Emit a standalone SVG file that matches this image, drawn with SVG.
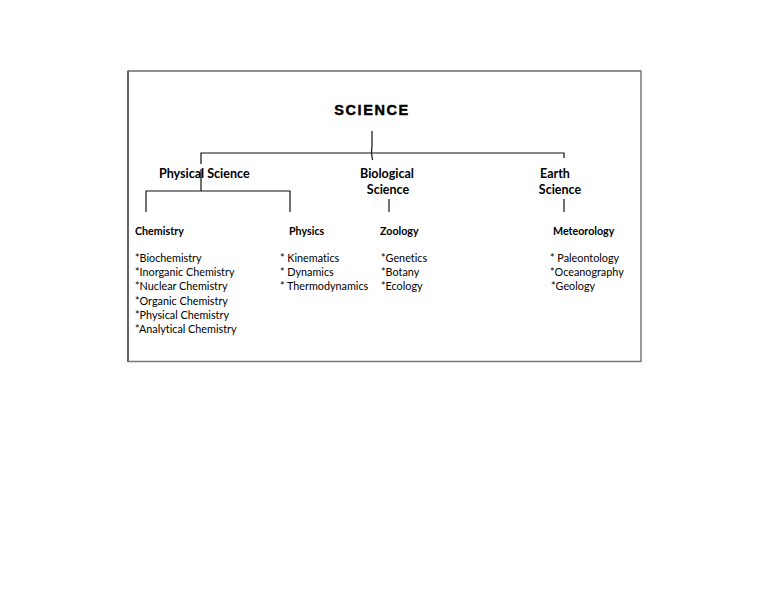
<svg xmlns="http://www.w3.org/2000/svg" width="768" height="594" viewBox="0 0 768 594">
<style>
.t{font-family:Lato,"Liberation Sans",sans-serif;fill:#000;font-variant-ligatures:none;}
.h{font-size:12.5px;font-weight:bold;}
.s{font-size:10.7px;font-weight:bold;}
.l{font-size:10.8px;}
.c{stroke:#111;stroke-width:1.2;fill:none;}
</style>
<rect width="768" height="594" fill="#fff"/>
<g id="frame">
<line x1="128" y1="71" x2="641" y2="71" stroke="#222" stroke-width="1.2"/>
<line x1="128" y1="70.5" x2="128" y2="362" stroke="#666" stroke-width="2"/>
<line x1="641" y1="70.5" x2="641" y2="362" stroke="#777" stroke-width="1.5"/>
<line x1="128" y1="361.5" x2="641" y2="361.5" stroke="#777" stroke-width="1.5"/>
</g>
<g id="connectors">
<path class="c" d="M372,131 L372,146 L371.5,153 L372.5,160"/>
<path class="c" d="M201,164 L201,153 L564,153 L564,158"/>
<path class="c" d="M201,169 L201,191"/>
<path class="c" d="M146,212 L146,191 L290,191 L290,212"/>
<path class="c" d="M389,199 L389,212"/>
<path class="c" d="M564,199 L564,212"/>
</g>
<g id="science"><text class="t" x="372" y="115" text-anchor="middle" stroke="#000" stroke-width="0.45" style="font-family:'Liberation Sans',sans-serif;font-size:14.5px;font-weight:900;letter-spacing:1.6px">SCIENCE</text></g>
<g id="physical-science"><text class="t h" x="159" y="178">Physical Science</text></g>
<g id="biological-science"><text class="t h" x="387" y="178" text-anchor="middle">Biological</text><text class="t h" x="388" y="194" text-anchor="middle">Science</text></g>
<g id="earth-science"><text class="t h" x="555" y="178" text-anchor="middle">Earth</text><text class="t h" x="560" y="194" text-anchor="middle">Science</text></g>
<g id="chemistry"><text class="t s" x="135" y="235">Chemistry</text>
<text class="t l" x="135" y="262">*Biochemistry</text>
<text class="t l" x="135" y="276">*Inorganic Chemistry</text>
<text class="t l" x="135" y="290">*Nuclear Chemistry</text>
<text class="t l" x="135" y="304.5">*Organic Chemistry</text>
<text class="t l" x="135" y="318.5">*Physical Chemistry</text>
<text class="t l" x="135" y="333">*Analytical Chemistry</text></g>
<g id="physics"><text class="t s" x="289" y="235">Physics</text>
<text class="t l" x="280" y="262">* Kinematics</text>
<text class="t l" x="280" y="276">* Dynamics</text>
<text class="t l" x="280" y="290">* Thermodynamics</text></g>
<g id="zoology"><text class="t s" x="380" y="235">Zoology</text>
<text class="t l" x="381" y="262">*Genetics</text>
<text class="t l" x="381" y="276">*Botany</text>
<text class="t l" x="381" y="290">*Ecology</text></g>
<g id="meteorology"><text class="t s" x="553" y="235">Meteorology</text>
<text class="t l" x="550" y="262">* Paleontology</text>
<text class="t l" x="550" y="276">*Oceanography</text>
<text class="t l" x="551" y="290">*Geology</text></g>
</svg>
